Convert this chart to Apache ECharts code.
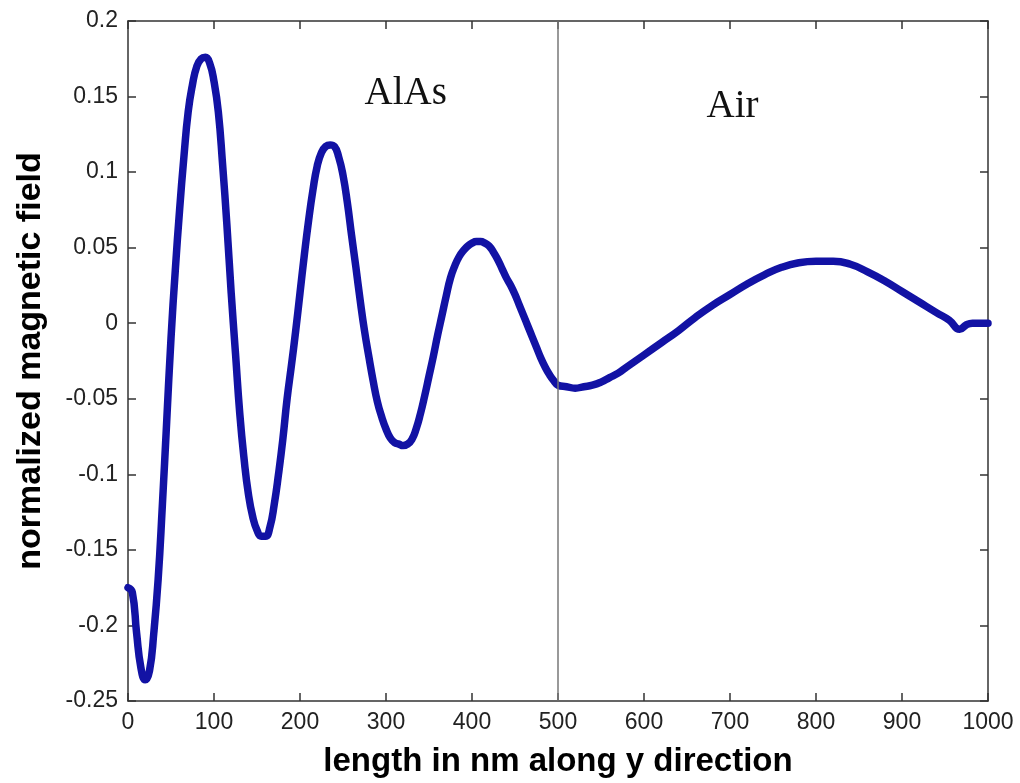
<!DOCTYPE html>
<html>
<head>
<meta charset="utf-8">
<script src="https://cdn.jsdelivr.net/npm/echarts@6/dist/echarts.min.js"></script>
<style>
  html, body { margin: 0; padding: 0; background: #fff; }
  #chart { width: 1020px; height: 783px; }
</style>
</head>
<body>
<div id="chart"></div>
<script>
// Position along y (nm) and the normalized magnetic field at each position.
const positionNm = [
  0, 5, 10, 15, 20, 25, 30, 35, 40, 45, 50, 55, 60, 65, 70, 75, 80, 85, 90, 95,
  100, 105, 110, 115, 120, 125, 130, 135, 140, 145, 150, 155, 160, 165, 170, 175,
  180, 185, 190, 195, 200, 205, 210, 215, 220, 225, 230, 235, 240, 245, 250, 255,
  260, 265, 270, 275, 280, 285, 290, 295, 300, 305, 310, 315, 320, 325, 330, 335,
  340, 345, 350, 355, 360, 365, 370, 375, 380, 385, 390, 395, 400, 405, 410, 415,
  420, 425, 430, 435, 440, 445, 450, 455, 460, 465, 470, 475, 480, 485, 490, 495,
  500, 510, 520, 530, 540, 550, 560, 570, 580, 590, 600, 620, 640, 660, 680, 700,
  720, 740, 760, 780, 800, 820, 840, 860, 880, 900, 920, 940, 955, 967, 975, 982,
  1000
];
const fieldValue = [
  -0.175, -0.178, -0.205, -0.228, -0.236, -0.230, -0.205, -0.170, -0.120, -0.065,
  -0.010, 0.035, 0.075, 0.110, 0.140, 0.158, 0.170, 0.175, 0.176, 0.172,
  0.160, 0.140, 0.105, 0.065, 0.020, -0.020, -0.060, -0.090, -0.113, -0.128,
  -0.137, -0.141, -0.141, -0.135, -0.120, -0.100, -0.077, -0.050, -0.028, -0.005,
  0.020, 0.045, 0.068, 0.088, 0.104, 0.113, 0.117, 0.118, 0.117, 0.110,
  0.098, 0.080, 0.058, 0.037, 0.015, -0.005, -0.022, -0.038, -0.052, -0.062,
  -0.070, -0.076, -0.079, -0.080, -0.081, -0.080, -0.077, -0.070, -0.060, -0.048,
  -0.035, -0.022, -0.008, 0.005, 0.018, 0.030, 0.038, 0.044, 0.048, 0.051,
  0.053, 0.054, 0.054, 0.053, 0.051, 0.047, 0.042, 0.036, 0.030, 0.025,
  0.019, 0.012, 0.005, -0.002, -0.009, -0.016, -0.023, -0.029, -0.034, -0.038,
  -0.041, -0.042, -0.043, -0.042, -0.041, -0.039, -0.036, -0.033, -0.029, -0.025,
  -0.021, -0.013, -0.005, 0.004, 0.012, 0.019, 0.026, 0.032, 0.037, 0.040,
  0.041, 0.041, 0.039, 0.034, 0.028, 0.021, 0.014, 0.007, 0.002, -0.004,
  -0.001, 0.000, 0.000
];

// Axis ticks and their labels.
const xTicks = [0, 100, 200, 300, 400, 500, 600, 700, 800, 900, 1000];
const yTickLabels = ['-0.25', '-0.2', '-0.15', '-0.1', '-0.05', '0', '0.05', '0.1', '0.15', '0.2'];

// Layer boundary and region names.
const interfaceNm = 500;
const regionNames = ['AlAs', 'Air'];
const regionLabelAt = [[323, 0.152], [703, 0.143]];

const xTitle = 'length in nm along y direction';
const yTitle = 'normalized magnetic field';

const curve = positionNm.map((x, i) => [x, fieldValue[i]]);

const lineColor = '#1212a4';
const axisColor = '#333';
const tickFont = { color: '#222', fontSize: 23, fontFamily: 'Liberation Sans, Arial, sans-serif' };

function yLabel(v) {
  const idx = Math.round((v + 0.25) / 0.05);
  return yTickLabels[idx] !== undefined ? yTickLabels[idx] : '';
}
function xLabel(v) {
  const idx = xTicks.indexOf(Math.round(v));
  return idx >= 0 ? String(xTicks[idx]) : '';
}

const chart = echarts.init(document.getElementById('chart'), null, { renderer: 'canvas' });

const frameAxisX = {
  type: 'value', min: xTicks[0], max: xTicks[xTicks.length - 1], interval: 100,
  axisLine: { show: true, onZero: false, lineStyle: { color: axisColor, width: 1.5 } },
  axisTick: { show: true, inside: true, length: 8, lineStyle: { color: axisColor, width: 1.5 } },
  splitLine: { show: false }
};
const frameAxisY = {
  type: 'value', min: -0.25, max: 0.2, interval: 0.05,
  axisLine: { show: true, onZero: false, lineStyle: { color: axisColor, width: 1.5 } },
  axisTick: { show: true, inside: true, length: 8, lineStyle: { color: axisColor, width: 1.5 } },
  splitLine: { show: false }
};

chart.setOption({
  backgroundColor: '#fff',
  animation: false,
  grid: { left: 128, right: 32, top: 21, bottom: 82 },
  xAxis: [
    Object.assign({}, frameAxisX, {
      position: 'bottom',
      axisLabel: Object.assign({ margin: 10, formatter: xLabel }, tickFont),
      name: xTitle,
      nameLocation: 'middle',
      nameGap: 44,
      nameTextStyle: { color: '#000', fontSize: 33, fontWeight: 'bold', fontFamily: 'Liberation Sans, Arial, sans-serif' }
    }),
    Object.assign({}, frameAxisX, { position: 'top', axisLabel: { show: false } })
  ],
  yAxis: [
    Object.assign({}, frameAxisY, {
      position: 'left',
      axisLabel: Object.assign({ margin: 10, formatter: yLabel }, tickFont),
      name: yTitle,
      nameLocation: 'middle',
      nameGap: 80,
      nameTextStyle: { color: '#000', fontSize: 34, fontWeight: 'bold', fontFamily: 'Liberation Sans, Arial, sans-serif' }
    }),
    Object.assign({}, frameAxisY, { position: 'right', axisLabel: { show: false } })
  ],
  series: [
    {
      type: 'line',
      xAxisIndex: 0,
      yAxisIndex: 0,
      data: curve,
      smooth: 0.5,
      showSymbol: false,
      lineStyle: { color: lineColor, width: 7.5, cap: 'round', join: 'round' },
      z: 3,
      markLine: {
        silent: true,
        symbol: ['none', 'none'],
        label: { show: false },
        lineStyle: { color: '#777', width: 1.5, type: 'solid' },
        data: [{ xAxis: interfaceNm }]
      },
      markPoint: {
        silent: true,
        symbol: 'circle',
        symbolSize: 0,
        label: {
          show: true,
          position: 'inside',
          color: '#111',
          fontSize: 39,
          fontFamily: 'Liberation Serif, Times New Roman, serif',
          formatter: p => p.name
        },
        data: regionNames.map((n, i) => ({ name: n, coord: regionLabelAt[i] }))
      }
    }
  ]
});
</script>
</body>
</html>
